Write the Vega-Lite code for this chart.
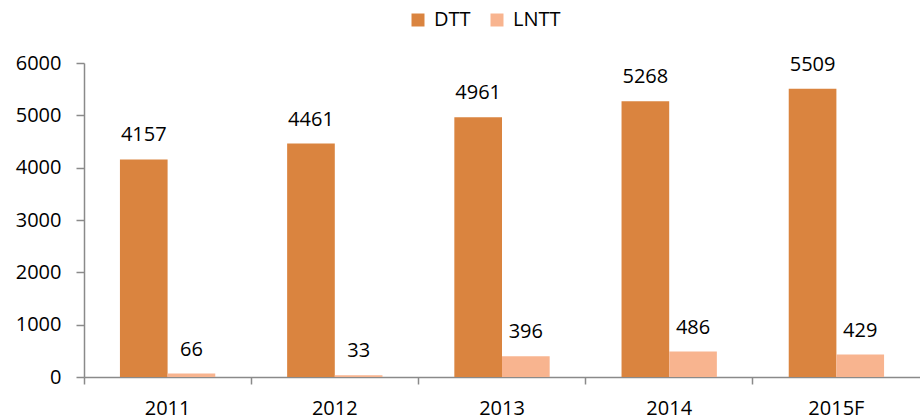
{
  "$schema": "https://vega.github.io/schema/vega-lite/v6.json",
  "autosize": {"type": "fit", "contains": "padding"},
  "width": 920,
  "height": 420,
  "padding": {"left": 15, "top": 53, "right": 0, "bottom": 2},
  "config": {
    "view": {"stroke": null},
    "font": "Open Sans",
    "axis": {"labelFont": "Open Sans", "labelFontSize": 20, "labelColor": "#000", "domainColor": "#8a8a8a", "tickColor": "#8a8a8a", "grid": false, "title": null},
    "legend": {"labelFont": "Open Sans", "labelFontSize": 20, "labelColor": "#000"}
  },
  "data": {
    "values": [
      {"year": "2011", "series": "DTT", "value": 4157},
      {"year": "2011", "series": "LNTT", "value": 66},
      {"year": "2012", "series": "DTT", "value": 4461},
      {"year": "2012", "series": "LNTT", "value": 33},
      {"year": "2013", "series": "DTT", "value": 4961},
      {"year": "2013", "series": "LNTT", "value": 396},
      {"year": "2014", "series": "DTT", "value": 5268},
      {"year": "2014", "series": "LNTT", "value": 486},
      {"year": "2015F", "series": "DTT", "value": 5509},
      {"year": "2015F", "series": "LNTT", "value": 429}
    ]
  },
  "encoding": {
    "x": {"field": "year", "type": "nominal", "sort": null,
      "scale": {"paddingInner": 0, "paddingOuter": 0},
      "axis": {"labelAngle": 0, "bandPosition": 0, "tickSize": 7, "labelPadding": 14, "domainWidth": 1.5, "tickWidth": 1.5}},
    "xOffset": {"field": "series", "type": "nominal", "sort": ["DTT", "LNTT"],
      "scale": {"paddingInner": 0, "paddingOuter": 0.754}},
    "y": {"field": "value", "type": "quantitative",
      "scale": {"domain": [0, 6000]},
      "axis": {"values": [0, 1000, 2000, 3000, 4000, 5000, 6000], "format": "d", "tickSize": 8, "labelPadding": 15, "domainWidth": 1.5, "tickWidth": 1.5}}
  },
  "layer": [
    {
      "mark": {"type": "bar"},
      "encoding": {
        "color": {"field": "series", "type": "nominal", "sort": ["DTT", "LNTT"],
          "scale": {"domain": ["DTT", "LNTT"], "range": ["#DA843F", "#F8B48F"]},
          "legend": {"orient": "none", "legendX": 324, "legendY": -53, "direction": "horizontal", "title": null, "symbolType": "square", "symbolSize": 169, "symbolStrokeWidth": 0, "columnPadding": 16, "labelOffset": 6, "padding": 0}}
      }
    },
    {
      "mark": {"type": "text", "baseline": "alphabetic", "dy": -18, "fontSize": 20, "color": "#000"},
      "encoding": {"text": {"field": "value", "type": "quantitative", "format": "d"}}
    }
  ]
}
